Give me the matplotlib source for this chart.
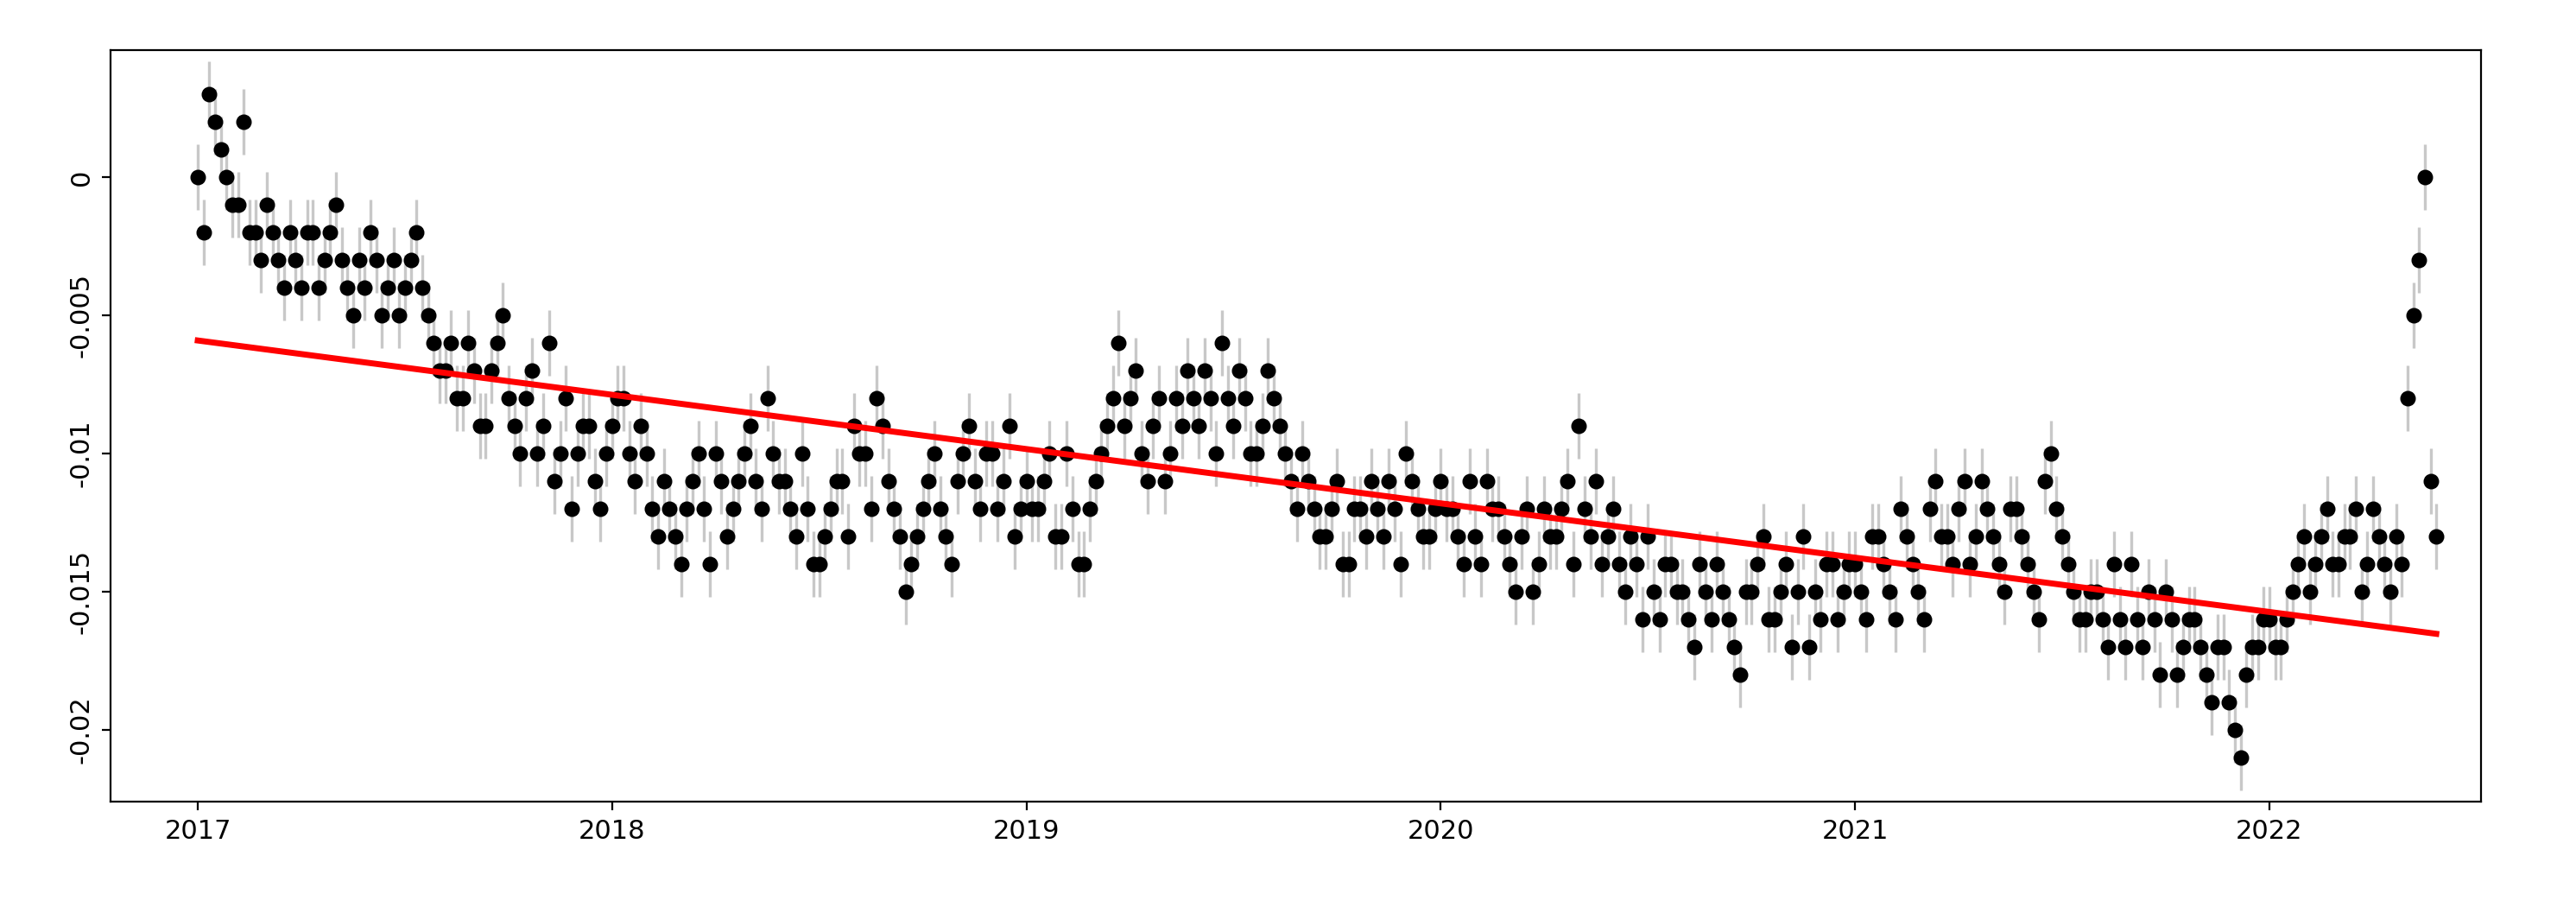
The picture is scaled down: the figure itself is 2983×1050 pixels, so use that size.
import matplotlib
matplotlib.use("Agg")
import matplotlib.pyplot as plt
import numpy as np

y2017 = [0.000, 0.003, 0.001, -0.001, 0.002, -0.002, -0.001, -0.003, -0.002, -0.004, -0.002, -0.003, -0.001, -0.004, -0.003, -0.002, -0.005, -0.003, -0.004, -0.002, -0.005, -0.007, -0.006, -0.008, -0.007, -0.009, -0.006, -0.008, -0.010, -0.007, -0.009, -0.011, -0.008, -0.010, -0.009, -0.012]
y2018 = [-0.009, -0.008, -0.011, -0.010, -0.013, -0.012, -0.014, -0.011, -0.012, -0.010, -0.013, -0.011, -0.009, -0.012, -0.010, -0.011, -0.013, -0.012, -0.014, -0.012, -0.011, -0.009, -0.010, -0.008, -0.011, -0.013, -0.014, -0.012, -0.010, -0.013, -0.011, -0.009, -0.012, -0.010, -0.011, -0.013]
y2019 = [-0.011, -0.012, -0.010, -0.013, -0.012, -0.014, -0.011, -0.009, -0.006, -0.008, -0.010, -0.009, -0.011, -0.008, -0.007, -0.009, -0.008, -0.006, -0.009, -0.008, -0.010, -0.007, -0.009, -0.011, -0.010, -0.012, -0.013, -0.011, -0.014, -0.012, -0.011, -0.013, -0.012, -0.010, -0.012, -0.013]
y2020 = [-0.011, -0.012, -0.014, -0.013, -0.011, -0.012, -0.014, -0.013, -0.015, -0.012, -0.013, -0.011, -0.009, -0.013, -0.014, -0.012, -0.015, -0.014, -0.013, -0.016, -0.014, -0.015, -0.017, -0.015, -0.014, -0.016, -0.018, -0.015, -0.013, -0.016, -0.014, -0.015, -0.017, -0.016, -0.014, -0.015]
y2021 = [-0.014, -0.016, -0.013, -0.015, -0.012, -0.014, -0.016, -0.011, -0.013, -0.012, -0.014, -0.011, -0.013, -0.015, -0.012, -0.014, -0.016, -0.010, -0.013, -0.015, -0.016, -0.015, -0.017, -0.016, -0.014, -0.017, -0.016, -0.015, -0.018, -0.016, -0.017, -0.019, -0.017, -0.020, -0.018, -0.017]
y2022 = [-0.016, -0.017, -0.015, -0.013, -0.014, -0.012, -0.014, -0.013, -0.015, -0.012, -0.014, -0.013, -0.008, -0.003, -0.011]

# second (interleaved) set of readings, offset by half a step
z2017 = [-0.002, 0.002, 0.000, -0.001, -0.002, -0.003, -0.002, -0.004, -0.003, -0.002, -0.004, -0.002, -0.003, -0.005, -0.004, -0.003, -0.004, -0.005, -0.003, -0.004, -0.006, -0.007, -0.008, -0.006, -0.009, -0.007, -0.005, -0.009, -0.008, -0.010, -0.006, -0.010, -0.012, -0.009, -0.011, -0.010]
z2018 = [-0.008, -0.010, -0.009, -0.012, -0.011, -0.013, -0.012, -0.010, -0.014, -0.011, -0.012, -0.010, -0.011, -0.008, -0.011, -0.012, -0.010, -0.014, -0.013, -0.011, -0.013, -0.010, -0.012, -0.009, -0.012, -0.015, -0.013, -0.011, -0.012, -0.014, -0.010, -0.011, -0.010, -0.012, -0.009, -0.012]
z2019 = [-0.012, -0.011, -0.013, -0.010, -0.014, -0.012, -0.010, -0.008, -0.009, -0.007, -0.011, -0.008, -0.010, -0.009, -0.008, -0.007, -0.010, -0.008, -0.007, -0.010, -0.009, -0.008, -0.010, -0.012, -0.011, -0.013, -0.012, -0.014, -0.012, -0.013, -0.012, -0.011, -0.014, -0.011, -0.013, -0.012]
z2020 = [-0.012, -0.013, -0.011, -0.014, -0.012, -0.013, -0.015, -0.012, -0.014, -0.013, -0.012, -0.014, -0.012, -0.011, -0.013, -0.014, -0.013, -0.016, -0.015, -0.014, -0.015, -0.016, -0.014, -0.016, -0.015, -0.017, -0.015, -0.014, -0.016, -0.015, -0.017, -0.013, -0.015, -0.014, -0.016, -0.014]
z2021 = [-0.015, -0.013, -0.014, -0.016, -0.013, -0.015, -0.012, -0.013, -0.014, -0.011, -0.013, -0.012, -0.014, -0.012, -0.013, -0.015, -0.011, -0.012, -0.014, -0.016, -0.015, -0.016, -0.014, -0.017, -0.016, -0.015, -0.018, -0.016, -0.017, -0.016, -0.018, -0.017, -0.019, -0.021, -0.017, -0.016]
z2022 = [-0.017, -0.016, -0.014, -0.015, -0.013, -0.014, -0.013, -0.012, -0.014, -0.013, -0.015, -0.014, -0.005, 0.000, -0.013]
err = 0.0012
years = [2017, 2018, 2019, 2020, 2021, 2022]
xticks = [2017, 2018, 2019, 2020, 2021, 2022]
yticks = [0, -0.005, -0.01, -0.015, -0.02]
yticklabels = ["0", "-0.005", "-0.01", "-0.015", "-0.02"]

series = [y2017, y2018, y2019, y2020, y2021, y2022]
series2 = [z2017, z2018, z2019, z2020, z2021, z2022]
t, y = [], []
for yr, vals, vals2 in zip(years, series, series2):
    for i, (v, w) in enumerate(zip(vals, vals2)):
        t.append(yr + i / 36); y.append(v)
        t.append(yr + (i + 0.5) / 36); y.append(w)
t = np.array(t); y = np.array(y)

fig = plt.figure(figsize=(14.915, 5.25), dpi=200)
ax = fig.add_axes([0.043, 0.116, 0.92, 0.829])
ax.errorbar(t, y, yerr=err, fmt="none", ecolor="#c8c8c8", elinewidth=1.2, zorder=1)
ax.scatter(t, y, s=30, color="black", zorder=2)
b, a = np.polyfit(t, y, 1)
ax.plot([t[0], t[-1]], [a + b * t[0], a + b * t[-1]], color="red", lw=2.5, zorder=3)
ax.set_xlim(2016.79, 2022.51)
ax.set_ylim(-0.0226, 0.0046)
ax.set_xticks(xticks)
ax.set_xticklabels([str(x) for x in xticks], fontsize=11)
ax.set_yticks(yticks)
ax.set_yticklabels(yticklabels, fontsize=11, rotation=90, va="center")
plt.savefig("out.png", dpi=200)
